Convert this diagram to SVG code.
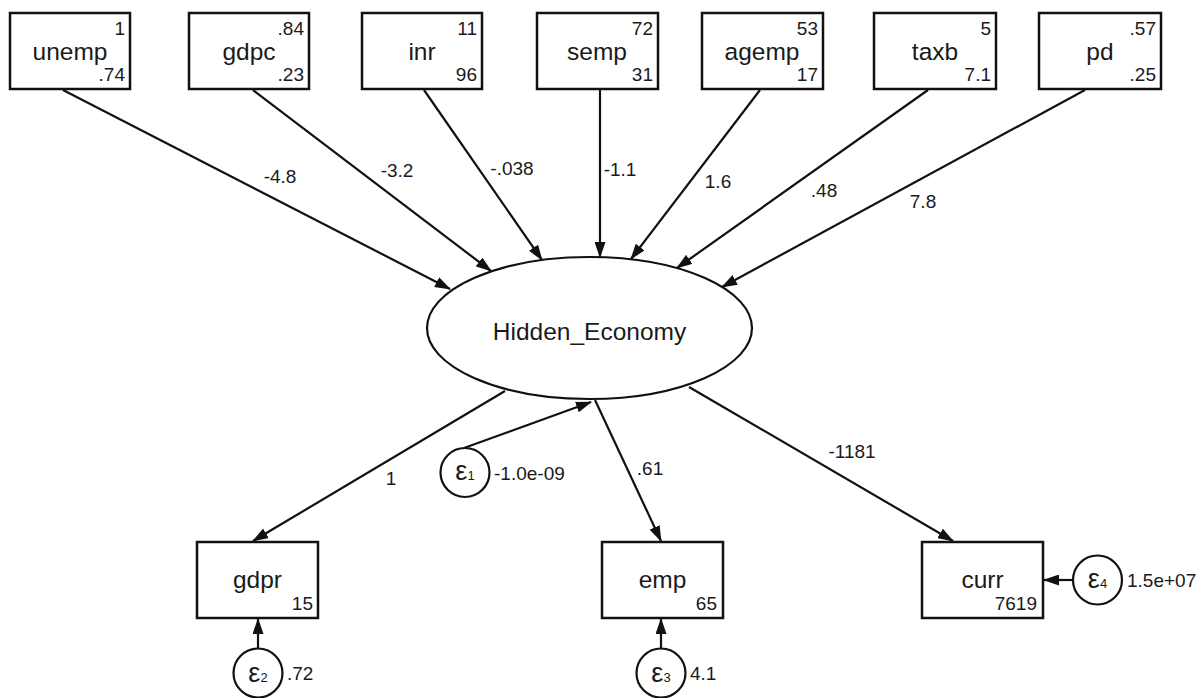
<svg xmlns="http://www.w3.org/2000/svg" width="1202" height="698" viewBox="0 0 1202 698">
<style>
.box{fill:#fff;stroke:#111;stroke-width:2.5}
.ell{fill:#fff;stroke:#111;stroke-width:2.2}
.err{fill:#fff;stroke:#111;stroke-width:2.2}
.ln{stroke:#111;stroke-width:2.2;fill:none;marker-end:url(#ah)}
.name{font-family:"Liberation Sans",Arial,sans-serif;font-size:24.5px;fill:#1a1a1a;text-anchor:middle}
.num{font-family:"Liberation Sans",Arial,sans-serif;font-size:19px;fill:#1a1a1a;text-anchor:end}
.lab{font-family:"Liberation Sans",Arial,sans-serif;font-size:19px;fill:#1a1a1a;text-anchor:middle}
.val{font-family:"Liberation Sans",Arial,sans-serif;font-size:19px;fill:#1a1a1a}
.eps{font-family:"Liberation Sans",Arial,sans-serif;font-size:27px;fill:#1a1a1a;text-anchor:middle}
.sub{font-size:13px}
</style>
<defs>
<marker id="ah" markerUnits="userSpaceOnUse" markerWidth="16" markerHeight="11" viewBox="0 0 16 11" refX="15" refY="5.5" orient="auto">
<path d="M0,0 L16,5.5 L0,11 z" fill="#111"/>
</marker>
</defs>
<rect width="1202" height="698" fill="#fff"/>
<g id="connectors">
<line class="ln" x1="63" y1="90" x2="450" y2="289"/>
<line class="ln" x1="253" y1="90" x2="491" y2="271"/>
<line class="ln" x1="424" y1="90" x2="542" y2="260"/>
<line class="ln" x1="600" y1="90" x2="600" y2="257"/>
<line class="ln" x1="760" y1="90" x2="631" y2="259"/>
<line class="ln" x1="928" y1="90" x2="677" y2="268"/>
<line class="ln" x1="1085" y1="90" x2="722" y2="287"/>
<line class="ln" x1="505" y1="391" x2="253" y2="541"/>
<line class="ln" x1="595" y1="400" x2="661" y2="541"/>
<line class="ln" x1="689" y1="387" x2="953" y2="541"/>
<line class="ln" x1="464" y1="448" x2="591" y2="402"/>
<line class="ln" x1="258" y1="648" x2="258" y2="619"/>
<line class="ln" x1="661" y1="648" x2="661" y2="619"/>
<line class="ln" x1="1073" y1="580" x2="1044" y2="580"/>
<text class="lab" x="280" y="183">-4.8</text>
<text class="lab" x="397" y="177">-3.2</text>
<text class="lab" x="512" y="175">-.038</text>
<text class="lab" x="620" y="176">-1.1</text>
<text class="lab" x="718" y="188">1.6</text>
<text class="lab" x="824" y="197">.48</text>
<text class="lab" x="923" y="208">7.8</text>
<text class="lab" x="391" y="485">1</text>
<text class="lab" x="650" y="475">.61</text>
<text class="lab" x="852" y="458">-1181</text>
</g>
<g id="unemp"><rect class="box" x="10" y="13" width="120" height="76"/><text class="name" x="70" y="60">unemp</text><text class="num" x="125" y="35">1</text><text class="num" x="125" y="81">.74</text></g>
<g id="gdpc"><rect class="box" x="189" y="13" width="120" height="76"/><text class="name" x="249" y="60">gdpc</text><text class="num" x="304" y="35">.84</text><text class="num" x="304" y="81">.23</text></g>
<g id="inr"><rect class="box" x="362" y="13" width="120" height="76"/><text class="name" x="422" y="60">inr</text><text class="num" x="477" y="35">11</text><text class="num" x="477" y="81">96</text></g>
<g id="semp"><rect class="box" x="537" y="13" width="121" height="76"/><text class="name" x="597" y="60">semp</text><text class="num" x="653" y="35">72</text><text class="num" x="653" y="81">31</text></g>
<g id="agemp"><rect class="box" x="702" y="13" width="121" height="76"/><text class="name" x="762" y="60">agemp</text><text class="num" x="818" y="35">53</text><text class="num" x="818" y="81">17</text></g>
<g id="taxb"><rect class="box" x="874" y="13" width="122" height="76"/><text class="name" x="935" y="60">taxb</text><text class="num" x="991" y="35">5</text><text class="num" x="991" y="81">7.1</text></g>
<g id="pd"><rect class="box" x="1039" y="13" width="122" height="76"/><text class="name" x="1100" y="60">pd</text><text class="num" x="1156" y="35">.57</text><text class="num" x="1156" y="81">.25</text></g>
<g id="Hidden_Economy"><ellipse class="ell" cx="589.5" cy="328" rx="162.5" ry="71"/><text class="name" x="589.5" y="340">Hidden_Economy</text></g>
<g id="gdpr"><rect class="box" x="197" y="542" width="121" height="76"/><text class="name" x="257.5" y="588">gdpr</text><text class="num" x="313" y="610">15</text></g>
<g id="emp"><rect class="box" x="602" y="542" width="121" height="76"/><text class="name" x="662.5" y="588">emp</text><text class="num" x="717" y="610">65</text></g>
<g id="curr"><rect class="box" x="922" y="542" width="121" height="76"/><text class="name" x="982.5" y="588">curr</text><text class="num" x="1037" y="610">7619</text></g>
<g id="e1"><circle class="err" cx="465" cy="472.5" r="24.5"/><text class="eps" x="465" y="480">ε<tspan class="sub">1</tspan></text><text class="val" x="494" y="480">-1.0e-09</text></g>
<g id="e2"><circle class="err" cx="258" cy="673" r="24.5"/><text class="eps" x="258" y="682">ε<tspan class="sub">2</tspan></text><text class="val" x="287" y="680">.72</text></g>
<g id="e3"><circle class="err" cx="661" cy="673" r="24.5"/><text class="eps" x="661" y="682">ε<tspan class="sub">3</tspan></text><text class="val" x="690" y="680">4.1</text></g>
<g id="e4"><circle class="err" cx="1097.5" cy="580" r="24.5"/><text class="eps" x="1097.5" y="588">ε<tspan class="sub">4</tspan></text><text class="val" x="1127" y="587">1.5e+07</text></g>
</svg>
